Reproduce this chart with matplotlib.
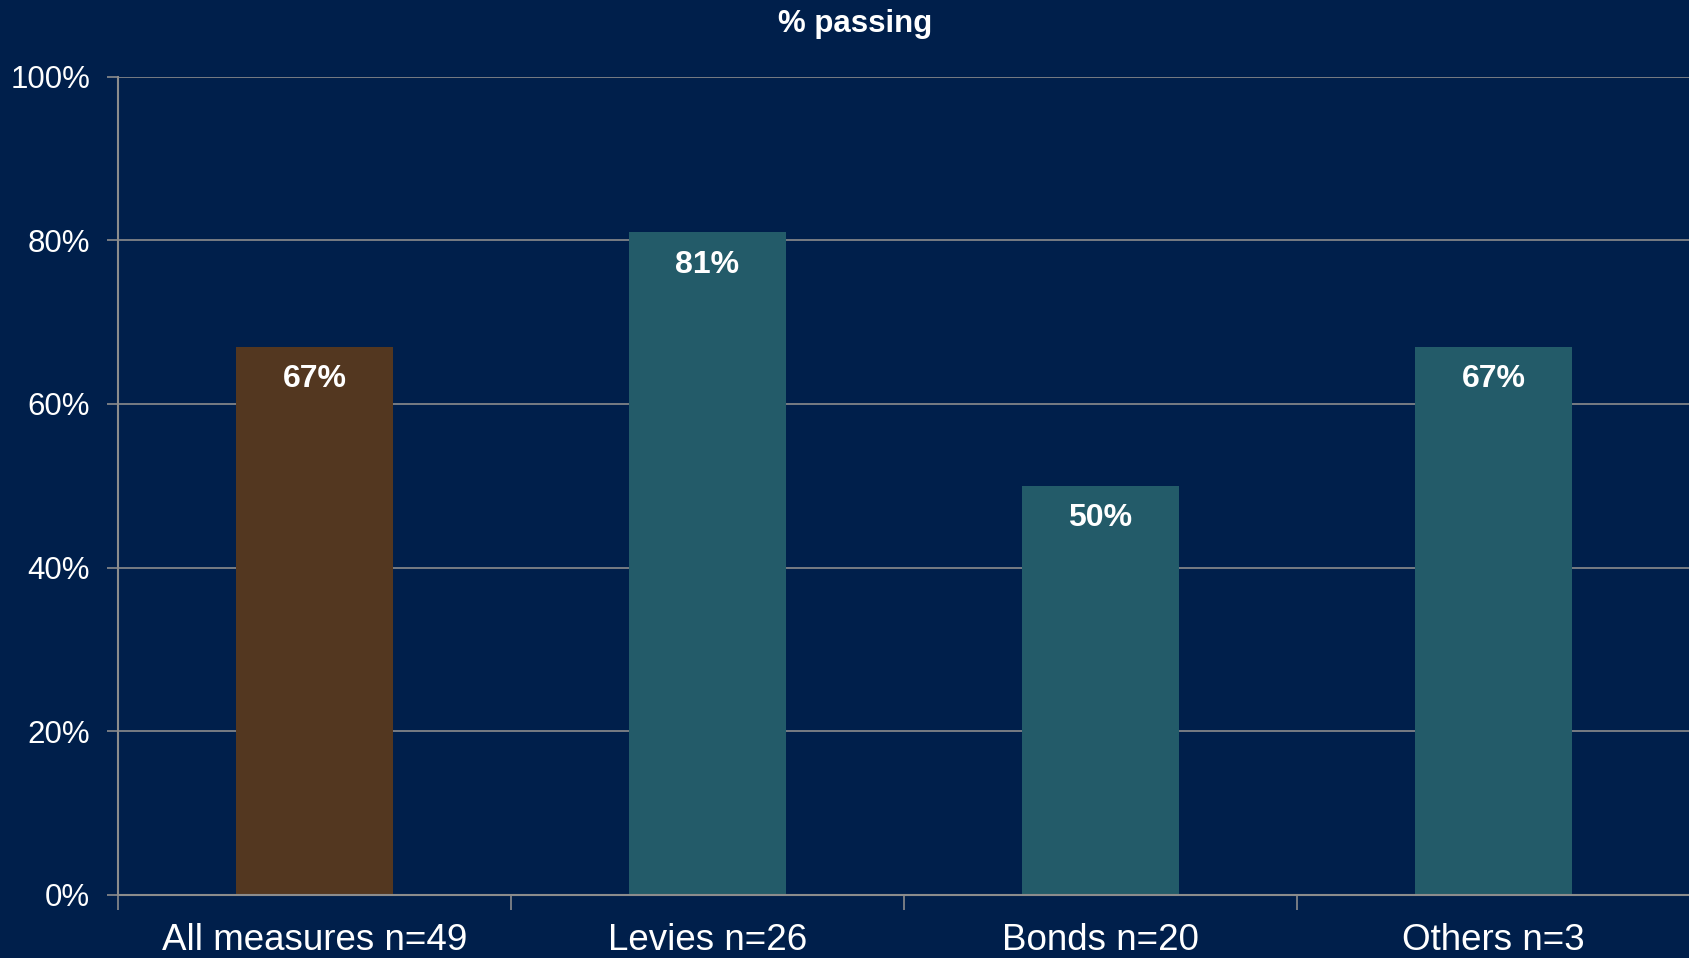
import matplotlib
matplotlib.use('Agg')
import matplotlib.pyplot as plt
import numpy as np

# 데이터
categories = ['All measures n=49', 'Levies n=26', 'Bonds n=20', 'Others n=3']
values = [67, 81, 50, 67]
bar_labels = ['67%', '81%', '50%', '67%']
bar_colors = ['#533720', '#235B69', '#235B69', '#235B69']

bg = '#001F4B'
grid_col = '#8C8C8C'

plt.rcParams['font.family'] = ['Liberation Sans', 'DejaVu Sans']

fig = plt.figure(figsize=(16.9, 9.58), dpi=100, facecolor=bg)
ax = fig.add_axes([0.0698, 0.066, 0.9302, 0.854])
ax.set_facecolor(bg)

x = np.arange(len(categories))
ax.bar(x, values, width=0.4, color=bar_colors, zorder=3)

for xi, v, lab in zip(x, values, bar_labels):
    ax.text(xi, v - 4, lab, ha='center', va='center', color='white',
            fontsize=23, fontweight='bold', zorder=4)

ax.set_xlim(-0.5, len(categories) - 0.5)
ax.set_ylim(0, 100)

# y축
ax.set_yticks(range(0, 101, 20))
ax.set_yticklabels([f'{v}%' for v in range(0, 101, 20)], fontsize=22.5, color='white')
ax.tick_params(axis='y', direction='out', length=8, color=grid_col, width=1.2, pad=12)
ax.yaxis.grid(True, color=grid_col, linewidth=1.2, zorder=1)

# x축: 경계에 눈금, 가운데에 라벨
ax.set_xticks(np.arange(-0.5, len(categories) - 0.4, 1.0))
ax.set_xticklabels([])
ax.tick_params(axis='x', which='major', direction='out', length=11, color=grid_col, width=1.2)
ax.set_xticks(x, minor=True)
ax.set_xticklabels(categories, minor=True, fontsize=26.5, color='white')
ax.tick_params(axis='x', which='minor', length=0, pad=20)

for s in ['top', 'right']:
    ax.spines[s].set_visible(False)
for s in ['left', 'bottom']:
    ax.spines[s].set_color(grid_col)
    ax.spines[s].set_linewidth(1.5)
    ax.spines[s].set_zorder(5)

fig.text(0.506, 0.975, '% passing', ha='center', va='center', color='white',
         fontsize=22.5, fontweight='bold')

fig.savefig('out.png', dpi=100, facecolor=bg)
plt.close()
